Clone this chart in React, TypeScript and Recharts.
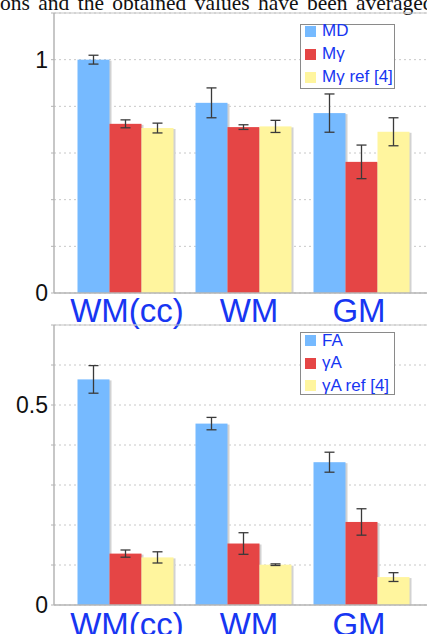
import React from "react"
import {
  BarChart,
  Bar,
  XAxis,
  YAxis,
  CartesianGrid,
  ErrorBar,
  Legend,
  ReferenceLine,
} from "recharts"

const CATEGORIES = ["WM(cc)", "WM", "GM"]

// upper panel
const MD = [1.0, 0.815, 0.771]
const MD_ERR = [0.019, 0.064, 0.082]
const M_GAMMA = [0.725, 0.711, 0.562]
const M_GAMMA_ERR = [0.017, 0.01, 0.072]
const M_GAMMA_REF = [0.707, 0.714, 0.691]
const M_GAMMA_REF_ERR = [0.021, 0.026, 0.06]
const TOP_TICKS = [0, 0.2, 0.4, 0.6, 0.8, 1, 1.2]
const TOP_LABELS = [0, 1]

// lower panel
const FA = [0.564, 0.4535, 0.357]
const FA_ERR = [0.0345, 0.0155, 0.025]
const GAMMA_A = [0.1285, 0.1537, 0.2076]
const GAMMA_A_ERR = [0.009, 0.027, 0.033]
const GAMMA_A_REF = [0.119, 0.1008, 0.0698]
const GAMMA_A_REF_ERR = [0.014, 0.002, 0.011]
const BOTTOM_TICKS = [0, 0.1, 0.2, 0.3, 0.4, 0.5, 0.6, 0.7]
const BOTTOM_LABELS = [0, 0.5]

const SERIES_COLORS = ["#76baff", "#e54545", "#fff59e"]
const TEXT_BLUE = "#1736f2"
const FONT = '"Liberation Sans", Arial, sans-serif'
const LABEL_NUDGE: Record<string, number> = { "WM(cc)": 2, WM: 6, GM: -2 }

const topData = CATEGORIES.map((c, i) => ({
  name: c,
  a: MD[i],
  aErr: MD_ERR[i],
  b: M_GAMMA[i],
  bErr: M_GAMMA_ERR[i],
  c: M_GAMMA_REF[i],
  cErr: M_GAMMA_REF_ERR[i],
}))

const bottomData = CATEGORIES.map((c, i) => ({
  name: c,
  a: FA[i],
  aErr: FA_ERR[i],
  b: GAMMA_A[i],
  bErr: GAMMA_A_ERR[i],
  c: GAMMA_A_REF[i],
  cErr: GAMMA_A_REF_ERR[i],
}))

function ShadowBar(props: any) {
  const { x, y, width, height, fill } = props
  if (!height || height <= 0) return null
  return (
    <g>
      <rect x={x + 2} y={y + 1} width={width} height={height - 1} fill="#d2d2d2" />
      <rect x={x} y={y} width={width} height={height} fill={fill} />
    </g>
  )
}

function CategoryTick(props: any) {
  const { x, y, payload, baseline } = props
  return (
    <text
      x={x + (LABEL_NUDGE[payload.value] || 0)}
      y={y + baseline}
      textAnchor="middle"
      fill={TEXT_BLUE}
      fontSize={33}
      fontFamily={FONT}
    >
      {payload.value}
    </text>
  )
}

function LegendBox({
  names,
  rowH,
  shift,
  boxH,
}: {
  names: string[]
  rowH: number
  shift: number
  boxH: number
}) {
  return (
    <div
      style={{
        width: 93,
        height: boxH,
        border: "1.5px solid #8a8a8a",
        background: "#fff",
        boxSizing: "content-box",
      }}
    >
      <div style={{ marginTop: shift }}>
        {names.map((n, i) => (
          <div
            key={n}
            style={{
              display: "flex",
              alignItems: "center",
              height: rowH,
              fontFamily: FONT,
              fontSize: 17,
              color: TEXT_BLUE,
              whiteSpace: "nowrap",
            }}
          >
            <span
              style={{
                display: "inline-block",
                width: 11,
                height: 11,
                marginLeft: 4,
                marginRight: 6,
                background: SERIES_COLORS[i],
              }}
            />
            {n}
          </div>
        ))}
      </div>
    </div>
  )
}

function Panel({
  data,
  names,
  max,
  ticks,
  labels,
  top,
  legendTop,
  legendRow,
  legendShift,
  legendH,
  baseline,
}: {
  data: any[]
  names: string[]
  max: number
  ticks: number[]
  labels: number[]
  top: number
  legendTop: number
  legendRow: number
  legendShift: number
  legendH: number
  baseline: number
}) {
  return (
    <div style={{ position: "absolute", left: 0, top }}>
      <BarChart
        width={460}
        height={330}
        data={data}
        margin={{ top: 13, right: 28, bottom: 0, left: 0 }}
        barCategoryGap={11.5}
        barGap={0}
      >
        <CartesianGrid
          vertical={false}
          stroke="#c8c8c8"
          strokeDasharray="2 3"
        />
        <ReferenceLine y={max} stroke="#c4c4c4" strokeWidth={1.2} />
        <XAxis
          dataKey="name"
          padding={{ left: 12, right: 12 }}
          height={37}
          tickSize={0}
          tickMargin={0}
          tickLine={false}
          axisLine={{ stroke: "#b4b4b4", strokeWidth: 1.5 }}
          tick={<CategoryTick baseline={baseline} />}
          interval={0}
        />
        <YAxis
          width={54}
          domain={[0, max]}
          ticks={ticks}
          interval={0}
          tickSize={3}
          tickMargin={3}
          tickLine={{ stroke: "#b4b4b4" }}
          axisLine={{ stroke: "#b4b4b4", strokeWidth: 1.5 }}
          tickFormatter={(v: number) => (labels.includes(v) ? String(v) : "")}
          tick={{ fill: "#111", fontSize: 23, fontFamily: FONT }}
        />
        <Legend
          layout="vertical"
          align="center"
          verticalAlign="middle"
          wrapperStyle={{ left: 300, top: legendTop, width: "auto" }}
          content={() => (
            <LegendBox
              names={names}
              rowH={legendRow}
              shift={legendShift}
              boxH={legendH}
            />
          )}
        />
        {["a", "b", "c"].map((k, i) => (
          <Bar
            key={k}
            dataKey={k}
            fill={SERIES_COLORS[i]}
            shape={<ShadowBar />}
            isAnimationActive={false}
          >
            <ErrorBar
              dataKey={k + "Err"}
              width={5}
              stroke="#3a3a3a"
              strokeWidth={1.3}
            />
          </Bar>
        ))}
      </BarChart>
    </div>
  )
}

export default function App() {
  return (
    <div
      style={{
        position: "absolute",
        left: 0,
        top: 0,
        width: 427,
        height: 634,
        overflow: "hidden",
        background: "#fff",
      }}
    >
      <svg width={427} height={20} style={{ position: "absolute", left: 0, top: 0 }}>
        <text
          x={0}
          y={9.5}
          fontFamily='"Liberation Serif", "Times New Roman", serif'
          fontSize={21.5}
          fill="#111"
          style={{ wordSpacing: "3px" }}
        >
          ons and the obtained values have been averaged
        </text>
      </svg>
      <Panel
        data={topData}
        names={["MD", "M\u03b3", "M\u03b3 ref [4]"]}
        max={1.2}
        ticks={TOP_TICKS}
        labels={TOP_LABELS}
        top={0}
        legendTop={23.7}
        legendRow={23}
        legendShift={-5}
        legendH={63}
        baseline={29}
      />
      <Panel
        data={bottomData}
        names={["FA", "\u03b3A", "\u03b3A ref [4]"]}
        max={0.7}
        ticks={BOTTOM_TICKS}
        labels={BOTTOM_LABELS}
        top={311.7}
        legendTop={20}
        legendRow={22.5}
        legendShift={-3}
        legendH={61}
        baseline={31}
      />
    </div>
  )
}
